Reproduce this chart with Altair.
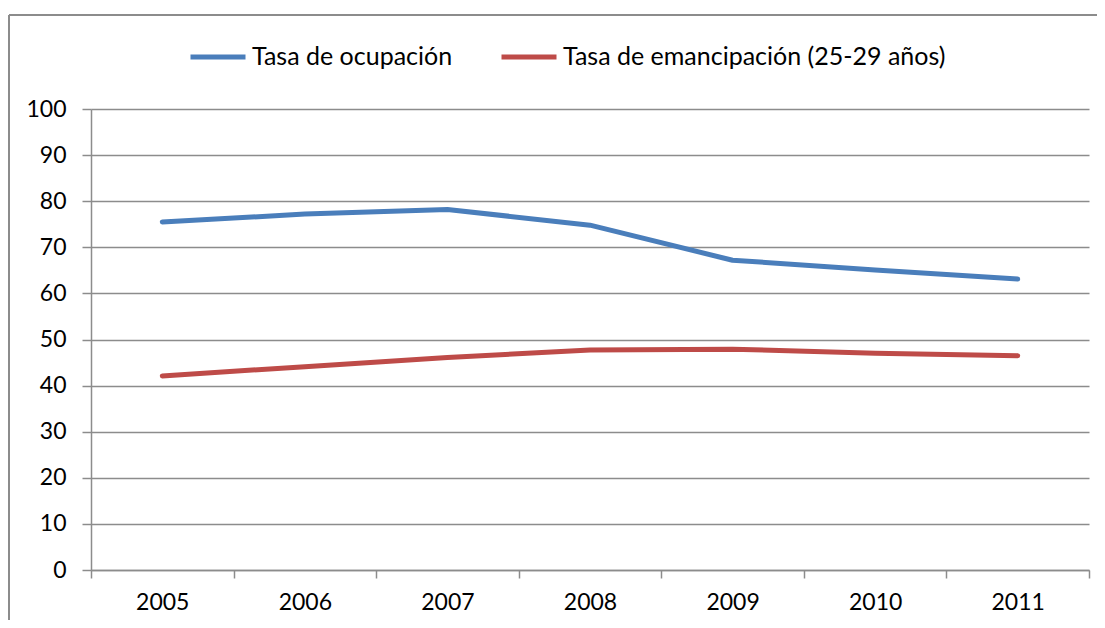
import altair as alt
import pandas as pd

years = ["2005", "2006", "2007", "2008", "2009", "2010", "2011"]
ocupacion = [75.5, 77.2, 78.2, 74.8, 67.2, 65.1, 63.1]
emancipacion = [42.1, 44.1, 46.1, 47.7, 47.9, 47.0, 46.5]
series_names = ["Tasa de ocupación", "Tasa de emancipación (25-29 años)"]
colors = ["#4A7EBB", "#BE4B48"]

rows = []
for y, v in zip(years, ocupacion):
    rows.append({"year": y, "value": v, "serie": series_names[0]})
for y, v in zip(years, emancipacion):
    rows.append({"year": y, "value": v, "serie": series_names[1]})
df = pd.DataFrame(rows)

W, H = 998, 461
FONT = "Lato"
GRID = "#8C8C8C"
FS = 23

lines = alt.Chart(df).mark_line(strokeWidth=5, strokeCap="round", strokeJoin="round").encode(
    x=alt.X("year:N", sort=years,
            scale=alt.Scale(type="band", paddingInner=0, paddingOuter=0),
            axis=alt.Axis(title=None, labelAngle=0, tickBand="extent", grid=False,
                          tickSize=8, tickColor=GRID, tickWidth=1.5,
                          domainColor=GRID, domainWidth=1.5,
                          labelFontSize=FS, labelFont=FONT, labelColor="#000000",
                          labelFontWeight="normal", labelPadding=13)),
    y=alt.Y("value:Q", scale=alt.Scale(domain=[0, 100], nice=False),
            axis=alt.Axis(title=None, values=list(range(0, 101, 10)),
                          grid=True, gridColor=GRID, gridWidth=1.5,
                          tickSize=9, tickColor=GRID, tickWidth=1.5,
                          domainColor=GRID, domainWidth=1.5,
                          labelFontSize=FS, labelFont=FONT, labelColor="#000000",
                          labelFontWeight="normal", labelPadding=16)),
    color=alt.Color("serie:N", sort=series_names,
                    scale=alt.Scale(domain=series_names, range=colors),
                    legend=alt.Legend(title=None, orient="none", direction="horizontal",
                                      legendX=97, legendY=-82,
                                      symbolType="stroke", symbolSize=3025,
                                      symbolStrokeWidth=5, labelFontSize=25,
                                      labelFont=FONT, labelColor="#000000",
                                      labelLimit=0, labelOffset=4, columnPadding=38)),
)

frame_left = alt.Chart(df).mark_rule(color=GRID, strokeWidth=1.5).encode(
    x=alt.value(-82), y=alt.value(-94), y2=alt.value(H + 60)
)
frame_top = alt.Chart(df).mark_rule(color=GRID, strokeWidth=1.5).encode(
    x=alt.value(-82), x2=alt.value(W + 20), y=alt.value(-94)
)

chart = alt.layer(frame_left, frame_top, lines).properties(
    width=W, height=H,
    autosize=alt.AutoSizeParams(type="none"),
    padding={"left": 83, "top": 101, "right": 8, "bottom": 50},
).configure_view(stroke=None)

chart.save("out.html", embed_options={"renderer": "svg", "actions": False})
